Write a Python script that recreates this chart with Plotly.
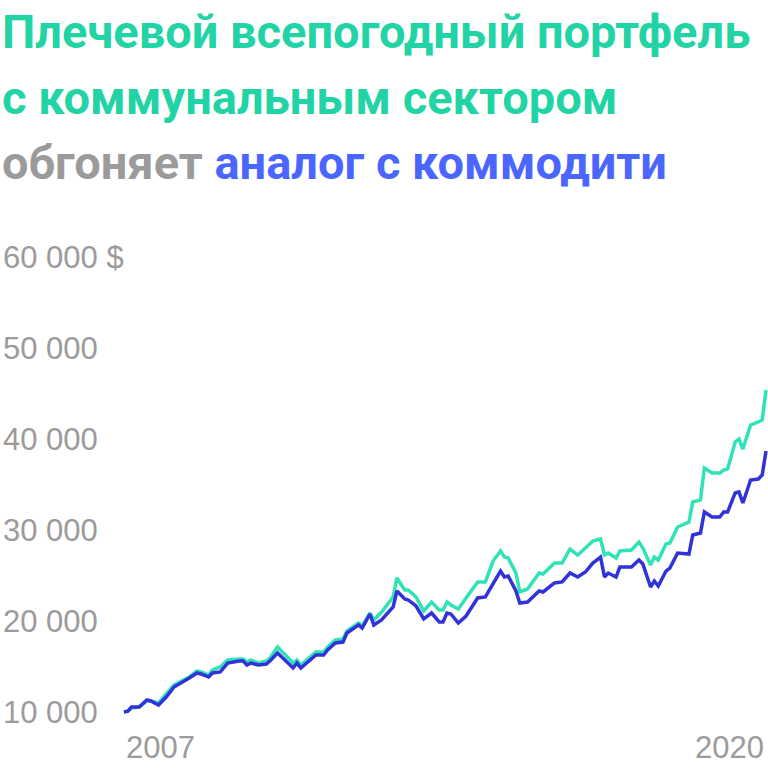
import plotly.graph_objects as go
import pandas as pd

# ---- data ----
dates = [
    "2007-01", "2007-02", "2007-03", "2007-05", "2007-07", "2007-08", "2007-10", "2007-12",
    "2008-02", "2008-04", "2008-06", "2008-08", "2008-09", "2008-11", "2008-12",
    "2009-02", "2009-04", "2009-07", "2009-08", "2009-09", "2009-10", "2009-12",
    "2010-02", "2010-03", "2010-05", "2010-09", "2010-10", "2010-11",
    "2011-03", "2011-05", "2011-06", "2011-08", "2011-10", "2011-11",
    "2012-02", "2012-03", "2012-05", "2012-06", "2012-08", "2012-11", "2012-12",
    "2013-02", "2013-03", "2013-05", "2013-07", "2013-09", "2013-11", "2013-12",
    "2014-01", "2014-02", "2014-04", "2014-06", "2014-09", "2014-11",
    "2015-01", "2015-03", "2015-04", "2015-05", "2015-07", "2015-08", "2015-10",
    "2016-01", "2016-02", "2016-05", "2016-07", "2016-09", "2016-11",
    "2017-01", "2017-03", "2017-05", "2017-06", "2017-07", "2017-09", "2017-10",
    "2018-01", "2018-03", "2018-04", "2018-06", "2018-07", "2018-08", "2018-10", "2018-11",
    "2019-01", "2019-04", "2019-05", "2019-07", "2019-08", "2019-10", "2019-12",
    "2020-01", "2020-02", "2020-04", "2020-05", "2020-06", "2020-08", "2020-10", "2020-11", "2020-12",
]

utilities = [
    10000, 10100, 10440, 10550, 11210, 11210, 10990, 11980,
    12970, 13410, 13850, 14510, 14400, 14070, 14620,
    14950, 15710, 15820, 15820, 15490, 15710, 15380,
    15600, 15930, 17140, 15380, 15710, 15160,
    16590, 16590, 17140, 17910, 18020, 18900,
    19780, 19450, 20880, 20110, 20990, 22640, 24730,
    23410, 23410, 22640, 21100, 22090, 21210, 21210,
    22090, 21760, 21320, 22530, 24290, 24290,
    26590, 27690, 27030, 26920, 25270, 23190, 23520,
    25270, 25160, 26370, 26370, 27910, 27250,
    28020, 28790, 29010, 27250, 27470, 26920, 27690,
    27800, 28680, 28020, 26150, 27030, 26700, 28460, 28570,
    30330, 30880, 33080, 33300, 36810, 36260, 36260,
    36590, 36700, 39670, 40000, 38900, 41540, 41870, 42090, 45380,
]

commodities = [
    10000, 10100, 10550, 10550, 11320, 11210, 10770, 11650,
    12750, 13190, 13740, 14290, 14180, 13850, 14290,
    14400, 15380, 15600, 15600, 15160, 15380, 15160,
    15270, 15600, 16480, 14840, 15380, 14840,
    16260, 16260, 16810, 17580, 17690, 18680,
    19560, 19230, 20770, 19560, 20110, 21540, 23300,
    22420, 22310, 21650, 20220, 20880, 19890, 19890,
    20880, 20770, 19780, 20550, 22530, 22640,
    24180, 25490, 24840, 24950, 23300, 21980, 22090,
    23300, 23190, 24180, 24290, 25270, 24840,
    25380, 26370, 27030, 24840, 25270, 24840, 25930,
    25930, 26700, 26260, 23740, 24400, 23850, 25490, 25820,
    27470, 27360, 29450, 29670, 31980, 31430, 31430,
    31980, 31980, 34070, 34180, 32970, 35490, 35600, 36040, 38680,
]

y_ticks = [10000, 20000, 30000, 40000, 50000, 60000]
y_tick_labels = ["10 000", "20 000", "30 000", "40 000", "50 000", "60 000 $"]
x_labels = ["2007", "2020"]

assert len(dates) == len(utilities) == len(commodities)

# ---- colours / layout ----
TEAL_LINE = "#30E3B6"
BLUE_LINE = "#3232D9"
TEAL_TEXT = "#22D4A5"
BLUE_TEXT = "#4B66FF"
GRAY = "#9B9B9B"

W = H = 768
d = pd.to_datetime(dates)
x0_px, x1_px = 124, 766
per_px = (d[-1] - d[0]) / (x1_px - x0_px)
x_range = [d[0] - per_px * x0_px, d[-1] + per_px * (W - x1_px)]

# y mapping: 10 000 at 712 px, 91 px per 10 000
top_px, bot_px = 230, 735
def val_at(px):
    return 10000 + (712 - px) / 91 * 10000
y_range = [val_at(bot_px), val_at(top_px)]

fig = go.Figure()
fig.add_trace(go.Scatter(x=d, y=utilities, mode="lines",
                         line=dict(color=TEAL_LINE, width=3.5), hoverinfo="skip"))
fig.add_trace(go.Scatter(x=d, y=commodities, mode="lines",
                         line=dict(color=BLUE_LINE, width=3.5), hoverinfo="skip"))

tick_font = dict(family="Liberation Sans, Arial, sans-serif", size=31, color=GRAY)

fig.update_layout(
    width=W, height=H,
    margin=dict(l=0, r=0, t=0, b=0),
    paper_bgcolor="white", plot_bgcolor="white",
    showlegend=False,
)
fig.update_xaxes(range=x_range, visible=False, showgrid=False, zeroline=False)
fig.update_yaxes(
    range=y_range,
    domain=[(H - bot_px) / H, (H - top_px) / H],
    tickvals=y_ticks, ticktext=y_tick_labels,
    ticklabelposition="inside", ticks="",
    showgrid=False, zeroline=False, showline=False,
    tickfont=tick_font,
)

annotations = []
annotations.append(dict(x=d[0], xref="x", y=(H - 747) / H, yref="paper",
                        text=x_labels[0], showarrow=False, xanchor="left",
                        yanchor="middle", font=tick_font))
annotations.append(dict(x=d[-1], xref="x", y=(H - 747) / H, yref="paper",
                        text=x_labels[1], showarrow=False, xanchor="right",
                        yanchor="middle", font=tick_font))

title_font = dict(family="Roboto, sans-serif", size=47, color=TEAL_TEXT, weight=700)
title_lines = [
    "Плечевой всепогодный портфель",
    "с коммунальным сектором",
    f"<span style='color:{GRAY}'>обгоняет</span> <span style='color:{BLUE_TEXT}'>аналог с коммодити</span>",
]
for i, (txt, cy) in enumerate(zip(title_lines, [32, 97, 162])):
    annotations.append(dict(x=0, xref="paper", y=(H - cy) / H, yref="paper",
                            text=txt, showarrow=False, xanchor="left",
                            yanchor="middle", font=title_font))

fig.update_layout(annotations=annotations)
fig.write_html("out.html",
               config={"displayModeBar": False, "staticPlot": True},
               post_script="document.body.style.margin='0';document.body.style.overflow='hidden';")
